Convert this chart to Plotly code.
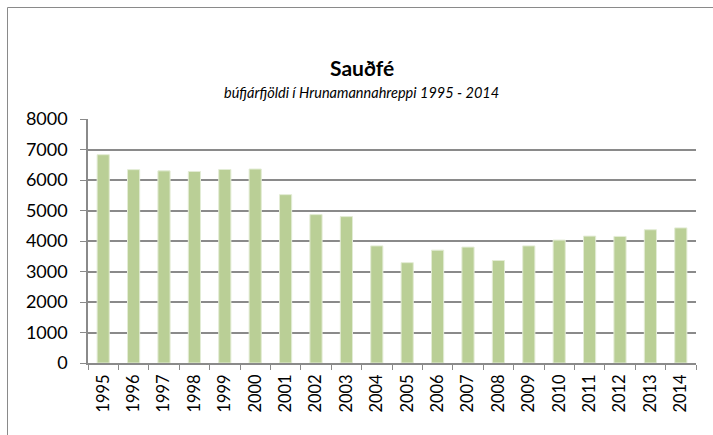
import plotly.graph_objects as go

years = [str(y) for y in range(1995, 2015)]
sheep = [6830, 6340, 6300, 6280, 6345, 6360, 5520, 4865, 4800, 3840,
         3290, 3700, 3800, 3360, 3840, 4030, 4160, 4150, 4370, 4430]
y_ticks = [0, 1000, 2000, 3000, 4000, 5000, 6000, 7000, 8000]

title_text = "Sauðfé"
subtitle_text = "búfjárfjöldi í Hrunamannahreppi 1995 - 2014"

W, H = 713, 435
L, R, T, B = 88, 17, 119, 72
pw, ph = W - L - R, H - T - B

def px_x(p):
    return (p - L) / pw

def px_y(p):
    return (H - B - p) / ph

fig = go.Figure(go.Bar(
    x=years, y=sheep,
    marker=dict(color="#BACF96", line=dict(color="#E3ECD5", width=1)),
    hoverinfo="x+y",
))

grid = "#8a8a8a"
fig.update_layout(
    width=W, height=H,
    margin=dict(l=L, r=R, t=T, b=B, pad=0),
    paper_bgcolor="white", plot_bgcolor="white",
    bargap=0.6,
    showlegend=False,
    font=dict(family="Lato, Liberation Sans, sans-serif", size=18, color="black"),
    xaxis=dict(
        type="category", tickangle=-90, tickson="boundaries",
        ticks="outside", ticklen=5, tickcolor=grid, tickwidth=1,
        showline=True, linecolor=grid, linewidth=1.5,
        showgrid=False, ticklabelstandoff=3,
        tickfont=dict(size=16.5),
    ),
    yaxis=dict(
        range=[0, 8000], tickvals=y_ticks, ticktext=[str(v) for v in y_ticks],
        ticks="outside", ticklen=6, tickcolor=grid, tickwidth=1,
        showline=True, linecolor=grid, linewidth=1.5,
        showgrid=True, gridcolor=grid, gridwidth=1.5,
        zeroline=False, ticklabelstandoff=9,
        tickfont=dict(size=18),
    ),
    shapes=[dict(
        type="rect", xref="paper", yref="paper",
        x0=px_x(7.5), x1=px_x(740), y0=px_y(460), y1=px_y(7.5),
        line=dict(color="#8a8a8a", width=1), fillcolor="rgba(0,0,0,0)",
        layer="below",
    )],
    annotations=[
        dict(text="<b>" + title_text + "</b>", xref="paper", yref="paper",
             x=px_x(362), y=px_y(67), xanchor="center", yanchor="middle",
             showarrow=False, font=dict(size=21, family="Lato, sans-serif")),
        dict(text="<i>" + subtitle_text + "</i>", xref="paper", yref="paper",
             x=px_x(361), y=px_y(92), xanchor="center", yanchor="middle",
             showarrow=False, font=dict(size=14.5, family="Lato, sans-serif")),
    ],
)

fig.write_html("out.html", config={"displayModeBar": False},
               post_script="document.body.style.margin='0';")
